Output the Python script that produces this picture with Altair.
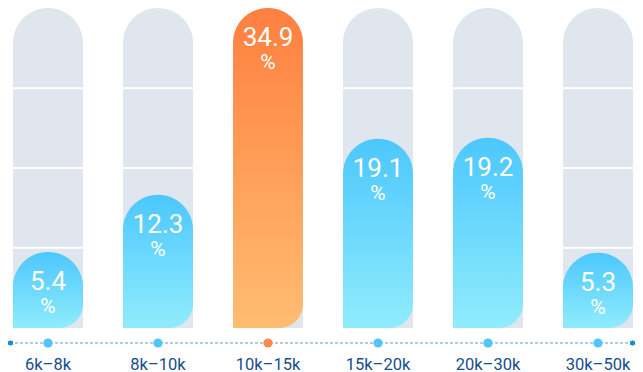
import altair as alt
import pandas as pd

# ---- data ----
categories = ["6k–8k", "8k–10k", "10k–15k", "15k–20k", "20k–30k", "30k–50k"]
shares = [5.4, 12.3, 34.9, 19.1, 19.2, 5.3]
highlight = "10k–15k"
unit = "%"
y_floor = -3.8                      # bars rise from slightly below zero
grid_levels = [5.9, 15.55, 25.2]    # white separators on the grey tracks

track_top = max(shares)
df = pd.DataFrame({
    "cat": categories,
    "share": shares,
    "track": [track_top] * len(shares),
    "hl": [c == highlight for c in categories],
})
df_grid = pd.DataFrame({"level": grid_levels})

W, H = 627, 320
AXIS_Y = 335

blue_grad = alt.LinearGradient(
    gradient="linear", x1=0, x2=0, y1=0, y2=1,
    stops=[alt.GradientStop(color="#4cc7fd", offset=0),
           alt.GradientStop(color="#90ecfc", offset=1)],
)
orange_grad = alt.LinearGradient(
    gradient="linear", x1=0, x2=0, y1=0, y2=1,
    stops=[alt.GradientStop(color="#ff7f3f", offset=0),
           alt.GradientStop(color="#ffbd72", offset=1)],
)

x_enc = alt.X(
    "cat:N", sort=categories,
    scale=alt.Scale(paddingInner=40 / 110, paddingOuter=0.0318, align=5 / 7),
    axis=alt.Axis(title=None, domain=False, ticks=False, tickSize=0, grid=False,
                  labelPadding=36, labelBaseline="middle", labelAngle=0,
                  labelFont="Roboto", labelFontSize=16.5, labelColor="#164e8c"),
)
yscale = alt.Scale(domain=[y_floor, track_top], nice=False, zero=False)

base = alt.Chart(df)

tracks = base.mark_bar(fill="#dfe6ee", cornerRadiusTopLeft=35, cornerRadiusTopRight=35).encode(
    x=x_enc,
    y=alt.Y("track:Q", scale=yscale, axis=None),
    y2=alt.datum(y_floor),
)

grid = alt.Chart(df_grid).mark_rule(color="white", strokeWidth=2).encode(
    y=alt.Y("level:Q", scale=yscale, axis=None),
)

bars = base.mark_bar(cornerRadiusTopLeft=35, cornerRadiusTopRight=35,
                     cornerRadiusBottomRight=24).encode(
    x=x_enc,
    y=alt.Y("share:Q", scale=yscale, axis=None),
    y2=alt.datum(y_floor),
    fill=alt.condition("datum.hl", alt.value(orange_grad), alt.value(blue_grad)),
)

values = base.mark_text(color="white", font="Roboto", fontSize=26, baseline="alphabetic",
                        dy=38).encode(
    x=x_enc,
    y=alt.Y("share:Q", scale=yscale, axis=None),
    text=alt.Text("share:Q", format=".1f"),
)

units = base.mark_text(color="white", font="Roboto", fontSize=21, baseline="alphabetic",
                       dy=61).encode(
    x=x_enc,
    y=alt.Y("share:Q", scale=yscale, axis=None),
    text=alt.value(unit),
)

axis_line = base.mark_rule(color="#b5cbe0", strokeWidth=2, strokeDash=[2, 3]).encode(
    x=alt.value(2.5), x2=alt.value(624.5), y=alt.value(AXIS_Y),
)

end_left = base.mark_circle(size=22, opacity=1, color="#1a8fcc").encode(
    x=alt.value(2.5), y=alt.value(AXIS_Y),
)
end_right = base.mark_circle(size=22, opacity=1, color="#1a8fcc").encode(
    x=alt.value(624.5), y=alt.value(AXIS_Y),
)

dots = base.mark_circle(size=85, opacity=1).encode(
    x=x_enc,
    y=alt.value(AXIS_Y),
    color=alt.condition("datum.hl", alt.value("#ff8a4c"), alt.value("#4dc6f9")),
)

chart = alt.layer(
    tracks, grid, bars, values, units, axis_line, end_left, end_right, dots
).properties(
    width=W, height=H,
    autosize=alt.AutoSizeParams(type="none"),
    padding={"left": 0, "top": 0, "right": 0, "bottom": 44},
).configure_view(stroke=None)

chart.save("out.html", embed_options={"renderer": "svg", "actions": False})
